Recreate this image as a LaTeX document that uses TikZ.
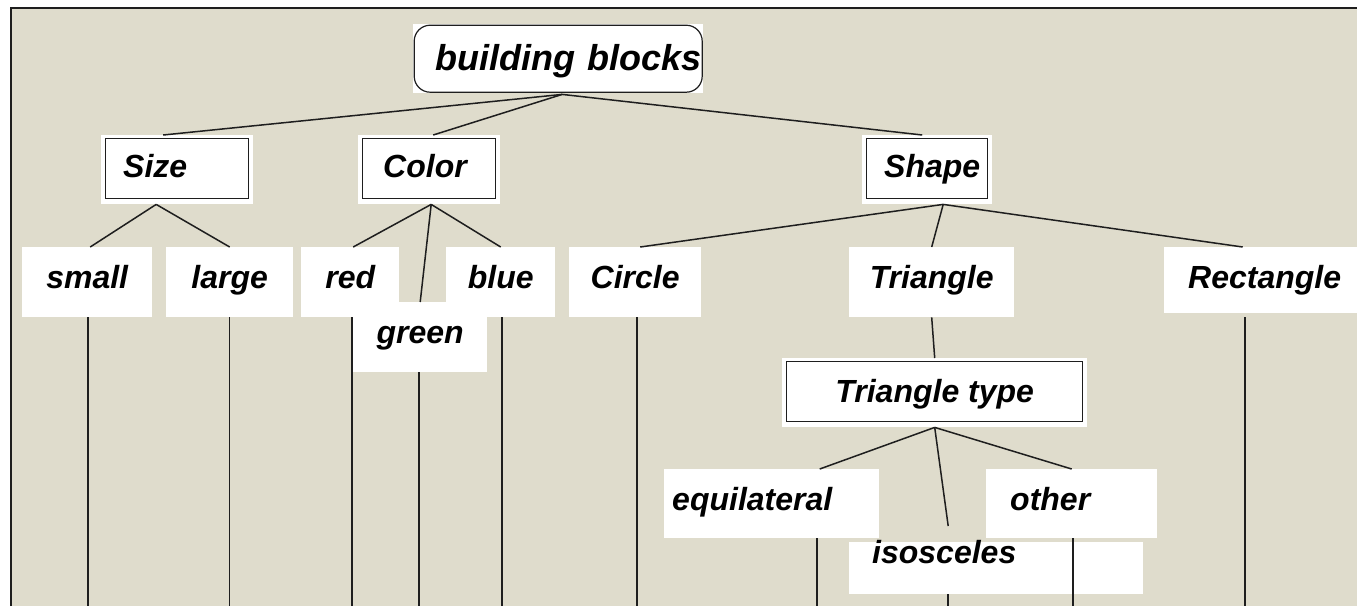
\documentclass[tikz,border=0pt]{standalone}
\usepackage{fontspec}
\setmainfont{Liberation Sans}

\definecolor{paper}{RGB}{223,220,204}
\definecolor{ink}{RGB}{30,30,30}

\newcommand\nodefont{\fontsize{32}{36}\selectfont\bfseries\itshape}
\newcommand\topfont{\fontsize{36}{40}\selectfont\bfseries\itshape}

\tikzset{bb/.style={fill=white, anchor=north west, inner xsep=0pt, inner ysep=0pt, text height=41pt, text depth=29pt, font=\nodefont},
    boxed/.style={path picture={\draw[ink, line width=1.4pt] ([shift={(4pt,-3pt)}]path picture bounding box.north west) rectangle ([shift={(-5pt,6pt)}]path picture bounding box.south east);}},
    roundboxed/.style={path picture={\draw[ink, line width=1.2pt, rounded corners=16pt] ([shift={(1pt,-1pt)}]path picture bounding box.north west) rectangle ([shift={(-1pt,1pt)}]path picture bounding box.south east);}},
    head/.style={bb, boxed, text height=42pt, text depth=27pt, align=left},
    link/.style={ink, line width=1.5pt}}

\begin{document}
\begin{tikzpicture}[x=1pt, y=-1pt]
    \useasboundingbox (0,0) rectangle (1357,606);
    \fill[paper] (10,7) rectangle (1357,606);
    \draw[ink, line width=2pt] (10.5,606) -- (10.5,7.5) -- (1357,7.5);
    \coordinate (floor) at (0,606);
    
    \node[bb, roundboxed, text height=46pt, text depth=23pt, font=\topfont, inner xsep=22pt, text width=246pt, align=left] (blocks) at (413,24) {building~blocks};
    
    \node[head, inner xsep=22pt, text width=108pt] (size) at (101,135) {Size};
    \node[head, inner xsep=25pt, text width=92pt] (color) at (358,135) {Color};
    \node[head, inner xsep=22pt, text width=86pt] (shape) at (862,135) {Shape};
    
    \node[bb, minimum width=130pt] (small) at (22,247) {small};
    \node[bb, minimum width=127pt] (large) at (166,247) {large};
    \node[bb, minimum width=98pt] (red) at (301,247) {red};
    \node[bb, minimum width=109pt] (blue) at (446,247) {blue};
    \node[bb, minimum width=134pt] (green) at (353,302) {green};
    \node[bb, minimum width=132pt] (circ) at (569,247) {Circle};
    \node[bb, minimum width=165pt] (tri) at (849,247) {Triangle};
    \node[bb, text depth=25pt, inner xsep=24pt, text width=145pt, align=left] (rect) at (1164,247) {Rectangle};
    
    \node[bb, boxed, text height=44pt, text depth=25pt, minimum width=305pt] (tri_type) at (782,358) {Triangle type};
    
    \node[bb, text depth=28pt, inner xsep=8pt, text width=199pt, align=left] (equi) at (664,469) {equilateral};
    \node[bb, text depth=28pt, inner xsep=24pt, text width=123pt, align=left] (other) at (986,469) {other};
    \node[bb, text height=21pt, text depth=31pt, inner xsep=23pt, text width=248pt, align=left] (isos) at (849,542) {isosceles};
    
    \draw[link] ([xshift=4pt, yshift=-1pt]blocks.south) -- ([xshift=-14pt]size.north);
    \draw[link] ([xshift=4pt, yshift=-1pt]blocks.south) -- ([xshift=4pt]color.north);
    \draw[link] ([xshift=4pt, yshift=-1pt]blocks.south) -- ([xshift=-5pt]shape.north);
    
    \draw[link] ([xshift=-21pt]size.south) -- ([xshift=3pt]small.north);
    \draw[link] ([xshift=-21pt]size.south) -- (large.north);
    
    \draw[link] ([xshift=2pt]color.south) -- ([xshift=3pt]red.north);
    \draw[link] ([xshift=2pt]color.south) -- (green.north);
    \draw[link] ([xshift=2pt]color.south) -- (blue.north);
    
    \draw[link] ([xshift=16pt]shape.south) -- ([xshift=5pt]circ.north);
    \draw[link] ([xshift=16pt]shape.south) -- (tri.north);
    \draw[link] ([xshift=16pt]shape.south) -- ([xshift=-18pt]rect.north);
    
    \draw[link] (tri.south) -- (tri_type.north);
    
    \draw[link] (tri_type.south) -- ([xshift=48pt]equi.north);
    \draw[link] (tri_type.south) -- ([xshift=-48pt, yshift=16pt]isos.north);
    \draw[link] (tri_type.south) -- (other.north);
    
    \draw[link] ([xshift=1pt]small.south) -- ([xshift=1pt]small.south |- floor);
    \draw[link] (large.south) -- (large.south |- floor);
    \draw[link] ([xshift=2pt]red.south) -- ([xshift=2pt]red.south |- floor);
    \draw[link] ([xshift=-1pt]green.south) -- ([xshift=-1pt]green.south |- floor);
    \draw[link] ([xshift=1.5pt]blue.south) -- ([xshift=1.5pt]blue.south |- floor);
    \draw[link] ([xshift=2pt]circ.south) -- ([xshift=2pt]circ.south |- floor);
    \draw[link] ([xshift=-15.5pt, yshift=-4pt]rect.south) -- ([xshift=-15.5pt]rect.south |- floor);
    \draw[link] ([xshift=45.5pt]equi.south) -- ([xshift=45.5pt]equi.south |- floor);
    \draw[link] ([xshift=-48pt]isos.south) -- ([xshift=-48pt]isos.south |- floor);
    \draw[link] ([xshift=1.5pt]other.south) -- ([xshift=1.5pt]other.south |- floor);
    
\end{tikzpicture}
\end{document}
